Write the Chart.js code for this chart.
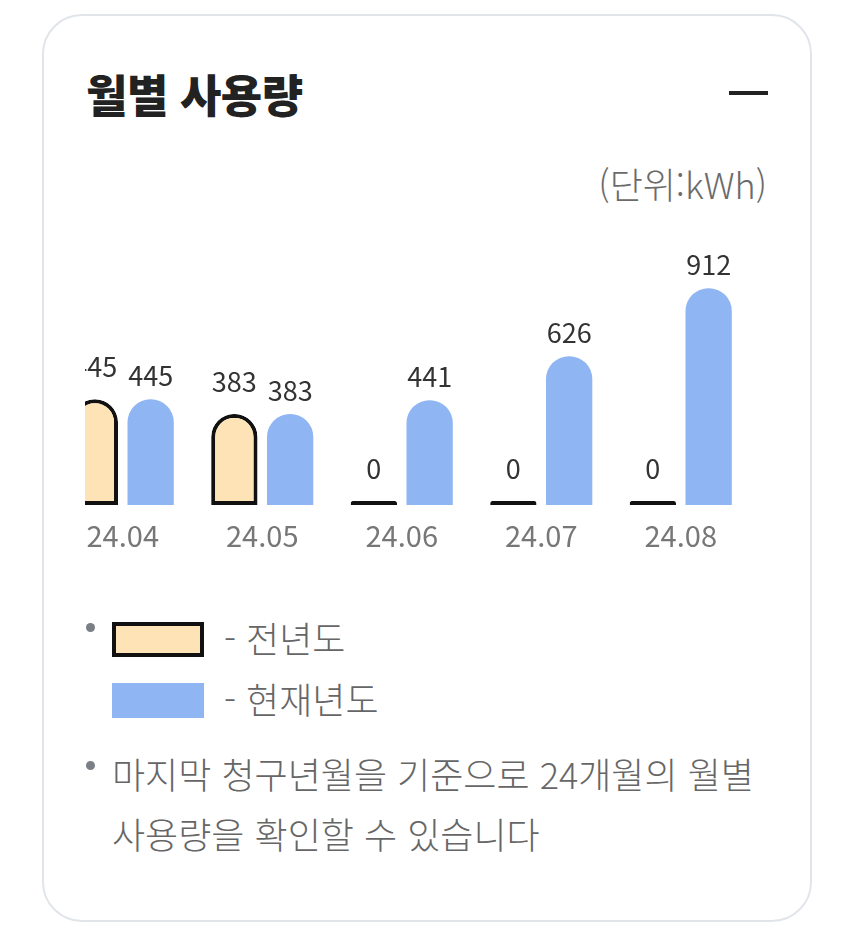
<!DOCTYPE html>
<html lang="ko">
<head>
<meta charset="utf-8">
<script src="https://cdn.jsdelivr.net/npm/chart.js@4"></script>
<style>
  html, body { margin: 0; padding: 0; background: #fff; }
  body { width: 850px; height: 939px; position: relative; overflow: hidden;
         font-family: "Noto Sans CJK KR", "Noto Sans", sans-serif; }
  .card { position: absolute; left: 42px; top: 14px; width: 766px; height: 904px;
          border: 2px solid #e1e5ea; border-radius: 40px; background: #fff; }
  .title { position: absolute; left: 86px; top: 64px; font-size: 45px; font-weight: 900;
           color: #222; line-height: 60px; margin: 0; letter-spacing: -0.5px; }
  .collapse { position: absolute; left: 729px; top: 91px; width: 39px; height: 4px; background: #222; }
  .unit { position: absolute; right: 83px; top: 159px; font-size: 36px; font-weight: 300; color: #6b6b6b; line-height: 48px; }
  .chart-view { position: absolute; left: 85px; top: 220px; width: 680px; height: 347px; overflow: hidden; }
  .chart-inner { position: absolute; left: -32.25px; top: 0; width: 697.5px; height: 347px; }
  .dot { position: absolute; width: 9px; height: 9px; border-radius: 50%; background: #7a7f85; }
  .swatch { position: absolute; left: 112px; width: 92px; height: 35px; box-sizing: border-box; }
  .legend-text { position: absolute; left: 224px; font-size: 36px; font-weight: 300; color: #666; line-height: 46px; }
  .note { position: absolute; left: 112px; top: 743px; width: 700px; font-size: 36px; font-weight: 300; color: #666; line-height: 60px; white-space: nowrap; }
</style>
</head>
<body>
<div class="card"></div>
<h2 class="title">월별 사용량</h2>
<div class="collapse"></div>
<div class="unit">(단위:kWh)</div>

<div class="chart-view">
  <div class="chart-inner"><canvas id="usageChart"></canvas></div>
</div>

<div class="dot" style="left:86px; top:623px;"></div>
<div class="swatch" style="top:622px; background:#fde3b5; border:4px solid #111;"></div>
<div class="legend-text" style="top:614px;">- 전년도</div>
<div class="swatch" style="top:683px; background:#8fb5f3;"></div>
<div class="legend-text" style="top:675px;">- 현재년도</div>

<div class="dot" style="left:86px; top:761px;"></div>
<div class="note">마지막 청구년월을 기준으로 24개월의 월별<br>사용량을 확인할 수 있습니다</div>

<script>
const months = ["24.04", "24.05", "24.06", "24.07", "24.08"];
const lastYear = [445, 383, 0, 0, 0];
const thisYear = [445, 383, 441, 626, 912];

// draw the value above each bar
const valueLabels = {
  id: "valueLabels",
  afterDatasetsDraw(chart) {
    const ctx = chart.ctx;
    ctx.save();
    ctx.font = "27px 'Noto Sans CJK KR'";
    ctx.fillStyle = "#333";
    ctx.textAlign = "center";
    ctx.textBaseline = "middle";
    chart.data.datasets.forEach((ds, i) => {
      const meta = chart.getDatasetMeta(i);
      const gap = i === 0 ? 32 : 23;
      meta.data.forEach((bar, j) => {
        ctx.fillText(String(ds.data[j]), bar.x, bar.y - gap);
      });
    });
    ctx.restore();
  },
};

const ctx = document.getElementById("usageChart").getContext("2d");

new Chart(ctx, {
  type: "bar",
  data: {
    labels: months,
    datasets: [
      {
        label: "전년도",
        data: lastYear,
        backgroundColor: "#fde3b5",
        borderColor: "#111",
        borderWidth: 4,
        borderSkipped: false,
        borderRadius: { topLeft: 23, topRight: 23 },
        minBarLength: 4,
        categoryPercentage: 0.8,
        barPercentage: 0.83,
      },
      {
        label: "현재년도",
        data: thisYear,
        backgroundColor: "#8fb5f3",
        borderWidth: 0,
        borderRadius: { topLeft: 23, topRight: 23 },
        borderSkipped: "bottom",
        categoryPercentage: 0.8,
        barPercentage: 0.83,
      },
    ],
  },
  options: {
    responsive: true,
    maintainAspectRatio: false,
    animation: false,
    layout: { padding: { top: 47.2, left: 0, right: 0, bottom: 0 } },
    plugins: {
      legend: { display: false },
      tooltip: { enabled: false },
    },
    scales: {
      x: {
        grid: { display: false, drawTicks: false },
        border: { display: false },
        ticks: {
          color: "#777",
          padding: 13.6,
          font: { size: 29, family: "'Noto Sans CJK KR'" },
        },
      },
      y: {
        display: false,
        min: 0,
        max: 1000,
      },
    },
  },
  plugins: [valueLabels],
});
</script>
</body>
</html>
